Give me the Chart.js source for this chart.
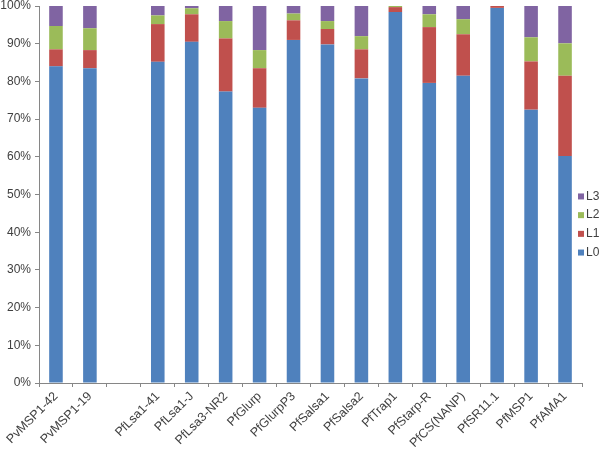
<!DOCTYPE html>
<html>
<head>
<meta charset="utf-8">
<script src="https://cdn.jsdelivr.net/npm/chart.js@4.4.1/dist/chart.umd.min.js"></script>
<style>
  html, body { margin: 0; padding: 0; background: #fff; }
  #wrap { width: 600px; height: 449px; }
</style>
</head>
<body>
<div id="wrap"><canvas id="myChart"></canvas></div>
<script>
const categories = ["PvMSP1-42", "PvMSP1-19", "", "PfLsa1-41", "PfLsa1-J", "PfLsa3-NR2", "PfGlurp",
  "PfGlurpP3", "PfSalsa1", "PfSalsa2", "PfTrap1", "PfStarp-R", "PfCS(NANP)", "PfSR11.1", "PfMSP1", "PfAMA1"];
const L0 = [84.0, 83.5, null, 85.2, 90.5, 77.3, 73.0, 91.0, 89.8, 80.8, 98.4, 79.6, 81.5, 99.5, 72.5, 60.2];
const L1 = [4.5, 4.8, null, 10.0, 7.3, 14.1, 10.5, 5.2, 4.1, 7.7, 1.3, 14.8, 11.0, 0.5, 12.8, 21.3];
const L2 = [6.2, 5.8, null, 2.3, 1.6, 4.6, 4.8, 1.8, 2.1, 3.5, 0.3, 3.4, 4.0, 0.0, 6.4, 8.6];
const L3 = [5.3, 5.9, null, 2.5, 0.6, 4.0, 11.7, 2.0, 4.0, 8.0, 0.0, 2.2, 3.5, 0.0, 8.3, 9.9];
const yTicks = [0, 10, 20, 30, 40, 50, 60, 70, 80, 90, 100];

const axisColor = "#868686";
const textColor = "#404040";
const fontFamily = "'Liberation Sans', Arial, sans-serif";

// legend on the right, drawn by hand so it sits tight to the edge like the original
const sideLegend = {
  id: "sideLegend",
  afterDraw(chart) {
    const ctx = chart.ctx;
    const sets = chart.data.datasets.slice().reverse();
    const step = 18.7;
    const y0 = chart.height / 2 - step * (sets.length - 1) / 2;
    ctx.save();
    ctx.font = "12px " + fontFamily;
    ctx.textBaseline = "middle";
    ctx.textAlign = "left";
    sets.forEach((ds, i) => {
      const y = y0 + i * step;
      ctx.fillStyle = ds.backgroundColor;
      ctx.fillRect(578, y - 3, 6, 6);
      ctx.fillStyle = textColor;
      ctx.fillText(ds.label, 586, y);
    });
    ctx.restore();
  },
};

new Chart(document.getElementById("myChart").getContext("2d"), {
  type: "bar",
  data: {
    labels: categories,
    datasets: [
      { label: "L0", data: L0, backgroundColor: "#4F81BD" },
      { label: "L1", data: L1, backgroundColor: "#C0504D" },
      { label: "L2", data: L2, backgroundColor: "#9BBB59" },
      { label: "L3", data: L3, backgroundColor: "#8064A2" },
    ],
  },
  options: {
    responsive: true,
    maintainAspectRatio: false,
    animation: false,
    datasets: {
      bar: { barPercentage: 0.4, categoryPercentage: 1.0 },
    },
    layout: { padding: { top: 0, right: 18, left: 0, bottom: 0 } },
    plugins: {
      legend: { display: false },
      tooltip: { enabled: false },
    },
    scales: {
      x: {
        stacked: true,
        grid: { display: true, drawOnChartArea: false, color: axisColor, tickLength: 4, offset: true },
        border: { display: true, color: axisColor },
        ticks: {
          autoSkip: false,
          maxRotation: 45,
          minRotation: 45,
          color: textColor,
          font: { family: fontFamily, size: 12.5 },
          padding: 2,
        },
        afterFit(scale) {
          scale.height = 66;
          scale.paddingLeft = 0;
          scale.paddingRight = 0;
        },
      },
      y: {
        stacked: true,
        min: 0,
        max: 100,
        afterBuildTicks(scale) { scale.ticks = yTicks.map(v => ({ value: v })); },
        grid: { display: true, drawOnChartArea: false, color: axisColor, tickLength: 4 },
        border: { display: true, color: axisColor },
        ticks: {
          color: textColor,
          font: { family: fontFamily, size: 12 },
          padding: 4,
          callback: v => v + "%",
        },
        afterFit(scale) {
          scale.width = 39;
          scale.paddingTop = 6;
          scale.paddingBottom = 0;
        },
      },
    },
  },
  plugins: [sideLegend],
});
</script>
</body>
</html>
